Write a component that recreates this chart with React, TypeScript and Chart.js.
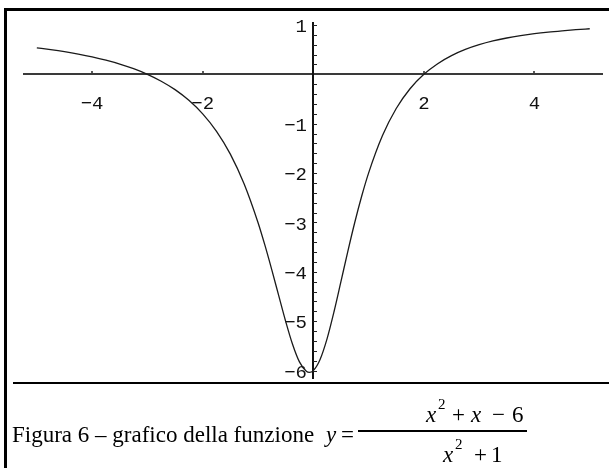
import React, { useEffect, useRef } from "react";
import { Chart, registerables } from "chart.js";

Chart.register(...registerables);

// Sampled points of y = (x^2 + x - 6) / (x^2 + 1)
const X_VALUES = [
  -5, -4.75, -4.5, -4.25, -4, -3.75, -3.5, -3.25, -3, -2.75, -2.5, -2.25, -2, -1.75, -1.5, -1.25, -1,
  -0.875, -0.75, -0.625, -0.5, -0.375, -0.25, -0.125, -0.07, 0,
  0.125, 0.25, 0.375, 0.5, 0.625, 0.75, 0.875,
  1, 1.25, 1.5, 1.75, 2, 2.25, 2.5, 2.75, 3, 3.25, 3.5, 3.75, 4, 4.25, 4.5, 4.75, 5,
];
const Y_VALUES = [
  0.538, 0.501, 0.459, 0.41, 0.353, 0.286, 0.208, 0.114, 0, -0.139, -0.31, -0.526, -0.8, -1.154, -1.615, -2.22, -3,
  -3.46, -3.96, -4.483, -5, -5.466, -5.824, -6.015, -6.036, -6,
  -5.769, -5.353, -4.808, -4.2, -3.584, -3, -2.469,
  -2, -1.244, -0.692, -0.292, 0, 0.216, 0.379, 0.504, 0.6, 0.676, 0.736, 0.784, 0.824, 0.856, 0.882, 0.905, 0.923,
];

const X_TICKS = [-4, -2, 2, 4];
const X_TICK_LABELS = ["−4", "−2", "2", "4"];
const Y_TICKS = [1, -1, -2, -3, -4, -5, -6];
const Y_TICK_LABELS = ["1", "−1", "−2", "−3", "−4", "−5", "−6"];
const Y_MINOR_STEP = 0.2;

const X_RANGE = [-5.25, 5.24];
const Y_RANGE = [-6.17, 1.06];

const CAPTION = "Figura 6 – grafico della funzione";

const crossAxes = {
  id: "crossAxes",
  beforeDatasetsDraw(chart: any) {
    const { ctx, chartArea, scales } = chart;
    const xs = scales.x;
    const ys = scales.y;
    const x0 = Math.round(xs.getPixelForValue(0));
    const y0 = Math.round(ys.getPixelForValue(0));
    ctx.save();

    // horizontal axis
    ctx.strokeStyle = "#3a3a3a";
    ctx.lineWidth = 2;
    ctx.beginPath();
    ctx.moveTo(chartArea.left, y0);
    ctx.lineTo(chartArea.right, y0);
    ctx.stroke();

    // vertical axis
    ctx.strokeStyle = "#111";
    ctx.lineWidth = 2;
    ctx.beginPath();
    ctx.moveTo(x0, chartArea.top);
    ctx.lineTo(x0, chartArea.bottom);
    ctx.stroke();

    // x ticks (small marks above the axis)
    ctx.lineWidth = 1.5;
    ctx.strokeStyle = "#222";
    X_TICKS.forEach((v) => {
      const px = Math.round(xs.getPixelForValue(v));
      ctx.beginPath();
      ctx.moveTo(px, y0 - 1);
      ctx.lineTo(px, y0 - 3);
      ctx.stroke();
    });

    // y ticks, minor every 0.2, to the right of the axis
    ctx.lineWidth = 1;
    const lo = Math.ceil(Y_RANGE[0] / Y_MINOR_STEP);
    const hi = Math.floor(Y_RANGE[1] / Y_MINOR_STEP);
    for (let i = lo; i <= hi; i++) {
      if (i === 0) continue;
      const py = Math.round(ys.getPixelForValue(i * Y_MINOR_STEP)) + 0.5;
      ctx.beginPath();
      ctx.moveTo(x0, py);
      ctx.lineTo(x0 + 4, py);
      ctx.stroke();
    }

    // tick labels
    ctx.fillStyle = "#111";
    ctx.font = '19px "Liberation Mono", "DejaVu Sans Mono", monospace';
    ctx.textAlign = "center";
    ctx.textBaseline = "middle";
    X_TICKS.forEach((v, i) => {
      ctx.fillText(X_TICK_LABELS[i], xs.getPixelForValue(v), y0 + 30);
    });
    ctx.textAlign = "right";
    Y_TICKS.forEach((v, i) => {
      ctx.fillText(Y_TICK_LABELS[i], x0 - 6, ys.getPixelForValue(v) + 2);
    });
    ctx.restore();
  },
};

const serif = '"Liberation Serif", "Times New Roman", serif';

function Txt(props: { left: number; baseline: number; size: number; italic?: boolean; children: React.ReactNode }) {
  const { left, baseline, size, italic, children } = props;
  return (
    <div
      style={{
        position: "absolute",
        left,
        top: baseline - size * 0.837,
        fontFamily: serif,
        fontSize: size,
        lineHeight: 1,
        fontStyle: italic ? "italic" : "normal",
        whiteSpace: "pre",
        color: "#000",
      }}
    >
      {children}
    </div>
  );
}

export default function App() {
  const canvasRef = useRef<HTMLCanvasElement | null>(null);

  useEffect(() => {
    const canvas = canvasRef.current;
    if (!canvas) return;
    const chart = new Chart(canvas, {
      type: "line",
      data: {
        datasets: [
          {
            data: X_VALUES.map((x, i) => ({ x, y: Y_VALUES[i] })),
            borderColor: "#1a1a1a",
            borderWidth: 1.3,
            pointRadius: 0,
            fill: false,
            cubicInterpolationMode: "monotone",
          },
        ],
      },
      options: {
        responsive: false,
        animation: false,
        devicePixelRatio: 1,
        layout: { padding: { left: 23, right: 6, top: 22, bottom: 89 } },
        plugins: { legend: { display: false }, tooltip: { enabled: false } },
        scales: {
          x: { type: "linear", min: X_RANGE[0], max: X_RANGE[1], display: false },
          y: { type: "linear", min: Y_RANGE[0], max: Y_RANGE[1], display: false },
        },
      },
      plugins: [crossAxes],
    });
    return () => chart.destroy();
  }, []);

  return (
    <div style={{ position: "absolute", left: 0, top: 0, width: 609, height: 468, background: "#fff", overflow: "hidden" }}>
      <canvas ref={canvasRef} width={609} height={468} style={{ position: "absolute", left: 0, top: 0 }} />
      {/* frame */}
      <div style={{ position: "absolute", left: 4, top: 8, width: 605, height: 2.5, background: "#000" }} />
      <div style={{ position: "absolute", left: 4, top: 8, width: 2.5, height: 460, background: "#000" }} />
      <div style={{ position: "absolute", left: 13, top: 382, width: 596, height: 2, background: "#000" }} />
      {/* caption */}
      <Txt left={12} baseline={442} size={23}>{CAPTION}</Txt>
      <Txt left={326} baseline={442} size={23} italic>y</Txt>
      <Txt left={341} baseline={442} size={23}>=</Txt>
      <div style={{ position: "absolute", left: 358, top: 430, width: 169, height: 1.5, background: "#000" }} />
      <Txt left={426} baseline={422} size={23} italic>x</Txt>
      <Txt left={438} baseline={410} size={15}>2</Txt>
      <Txt left={452} baseline={422} size={23}>+</Txt>
      <Txt left={471} baseline={422} size={23} italic>x</Txt>
      <Txt left={492} baseline={422} size={23}>−</Txt>
      <Txt left={512} baseline={422} size={23}>6</Txt>
      <Txt left={443} baseline={462} size={23} italic>x</Txt>
      <Txt left={455} baseline={450} size={15}>2</Txt>
      <Txt left={474} baseline={462} size={23}>+</Txt>
      <Txt left={491} baseline={462} size={23}>1</Txt>
    </div>
  );
}
